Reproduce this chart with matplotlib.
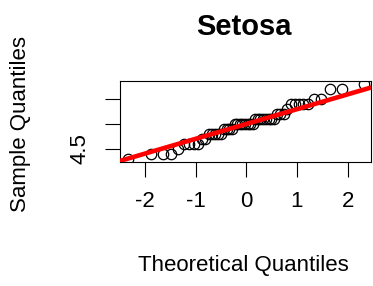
import matplotlib
matplotlib.use('Agg')
import matplotlib.pyplot as plt

plt.rcParams['font.family'] = ['Liberation Sans', 'DejaVu Sans']

# normal quantiles for 50 points, (i - 0.5) / 50
theo_lower = [-2.326, -1.881, -1.645, -1.476, -1.341, -1.227, -1.126, -1.036,
              -0.954, -0.878, -0.806, -0.739, -0.674, -0.613, -0.553, -0.496,
              -0.440, -0.385, -0.332, -0.279, -0.228, -0.176, -0.126, -0.075, -0.025]
theo = theo_lower + [-q for q in reversed(theo_lower)]

# setosa sepal length, sorted
sample = [4.3, 4.4, 4.4, 4.4, 4.5, 4.6, 4.6, 4.6, 4.6, 4.7,
          4.7, 4.8, 4.8, 4.8, 4.8, 4.8, 4.9, 4.9, 4.9, 4.9,
          5.0, 5.0, 5.0, 5.0, 5.0, 5.0, 5.0, 5.0, 5.1, 5.1,
          5.1, 5.1, 5.1, 5.1, 5.1, 5.1, 5.2, 5.2, 5.2, 5.3,
          5.4, 5.4, 5.4, 5.4, 5.4, 5.5, 5.5, 5.7, 5.7, 5.8]

# qqline through the quartiles
line_intercept = 5.0
line_slope = 0.2965

x_ticks = [-2, -1, 0, 1, 2]
y_ticks = [4.5, 5.0, 5.5]
y_labels = ['4.5', '', '']

fig = plt.figure(figsize=(3.73, 2.86), dpi=100)
ax = fig.add_axes([120/373, 1 - 162/286, 251/373, 81/286])

ax.plot(theo, sample, linestyle='none', marker='o', markersize=7.5,
        markerfacecolor='none', markeredgecolor='black', markeredgewidth=0.9)
ax.axline((0, line_intercept), slope=line_slope, color='red', lw=3.3, zorder=3)

ax.set_xlim(-2.49, 2.46)
ax.set_ylim(4.24, 5.86)
ax.set_xticks(x_ticks)
ax.set_xticklabels([str(t) for t in x_ticks])
ax.set_yticks(y_ticks)
ax.set_yticklabels(y_labels, rotation=90, va='center')
ax.tick_params(length=11, width=0.8, labelsize=16, pad=10)
for s in ax.spines.values():
    s.set_linewidth(0.8)

fig.text(244/373, 1 - 27/286, 'Setosa', ha='center', va='center',
         fontsize=21, fontweight='bold')
fig.text(243/373, 1 - 265/286, 'Theoretical Quantiles', ha='center', va='center',
         fontsize=16)
fig.text(21/373, 1 - 124/286, 'Sample Quantiles', ha='center', va='center',
         fontsize=16, rotation=90)

fig.savefig('out.png', dpi=100)
